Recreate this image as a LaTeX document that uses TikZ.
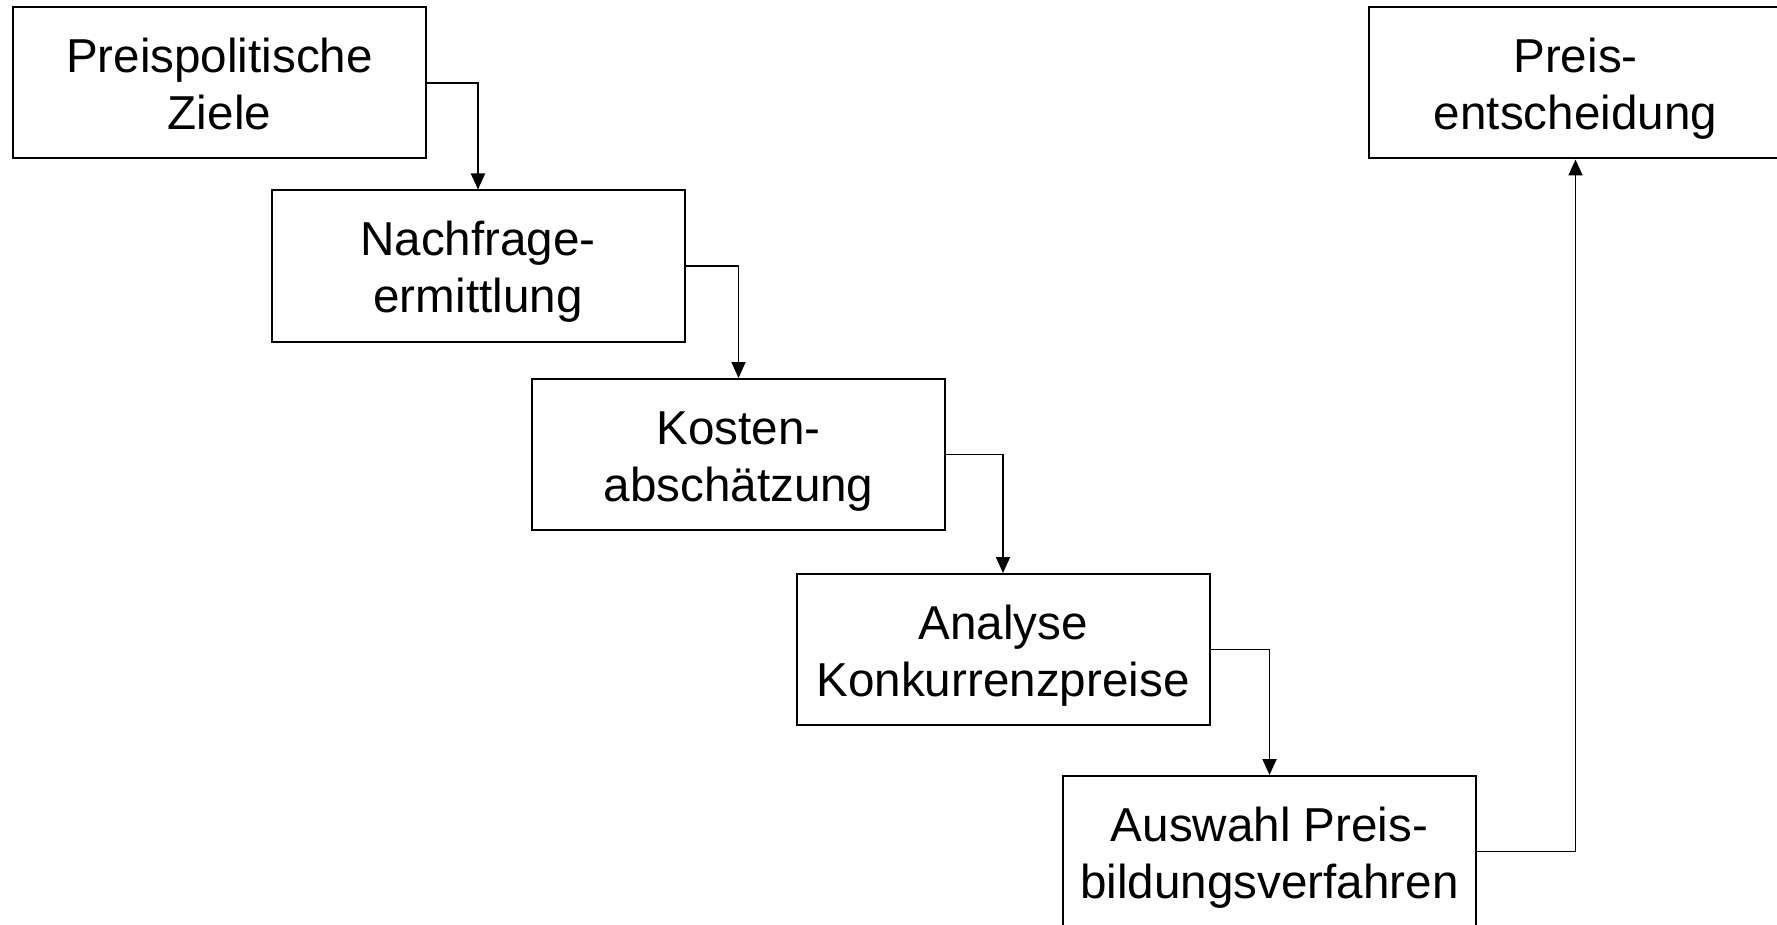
\documentclass[tikz,border=0pt]{standalone}
\usepackage{fontspec}
\setmainfont{Liberation Sans}
\usetikzlibrary{arrows.meta,calc}
\begin{document}
\begin{tikzpicture}[x=0.5pt,y=-0.5pt,
  box/.style={draw=black,line width=1pt,minimum width=206.5pt,minimum height=75.5pt,inner sep=0pt,fill=white},
  txt/.style={anchor=base,inner sep=0pt,font=\fontsize{23.8}{28}\selectfont},
  conn/.style={draw=black,line width=0.9pt,-{Triangle[length=8pt,width=7pt]}}]
\clip (0,0) rectangle (1777,925);
\useasboundingbox (0,0) rectangle (1777,925);
\fill[white] (0,0) rectangle (1777,925);
\node[box] (b1) at (219.5,83) {};
\node[box] (b2) at (478,266) {};
\node[box] (b3) at (738.5,454.5) {};
\node[box] (b4) at (1003,649.5) {};
\node[box] (b5) at (1269.5,851.5) {};
\node[box] (b6) at (1575.5,83) {};
\node[txt] (b1a) at ($(b1.center)+(0,-10.5)$) {Preispolitische};
\node[txt] (b1b) at ($(b1.center)+(0,47)$) {Ziele};
\node[txt] (b2a) at ($(b2.center)+(0,-10.5)$) {Nachfrage-};
\node[txt] (b2b) at ($(b2.center)+(0,47)$) {ermittlung};
\node[txt] (b3a) at ($(b3.center)+(0,-10.5)$) {Kosten-};
\node[txt] (b3b) at ($(b3.center)+(0,47)$) {abschätzung};
\node[txt] (b4a) at ($(b4.center)+(0,-10.5)$) {Analyse};
\node[txt] (b4b) at ($(b4.center)+(0,47)$) {Konkurrenzpreise};
\node[txt] (b5a) at ($(b5.center)+(0,-10.5)$) {Auswahl Preis-};
\node[txt] (b5b) at ($(b5.center)+(0,47)$) {bildungsverfahren};
\node[txt] (b6a) at ($(b6.center)+(0,-10.5)$) {Preis-};
\node[txt] (b6b) at ($(b6.center)+(0,47)$) {entscheidung};
\draw[conn] (b1.east) -| (b2.north);
\draw[conn] (b2.east) -| (b3.north);
\draw[conn] (b3.east) -| (b4.north);
\draw[conn] (b4.east) -| (b5.north);
\draw[conn] (b5.east) -| (b6.south);
\end{tikzpicture}
\end{document}
